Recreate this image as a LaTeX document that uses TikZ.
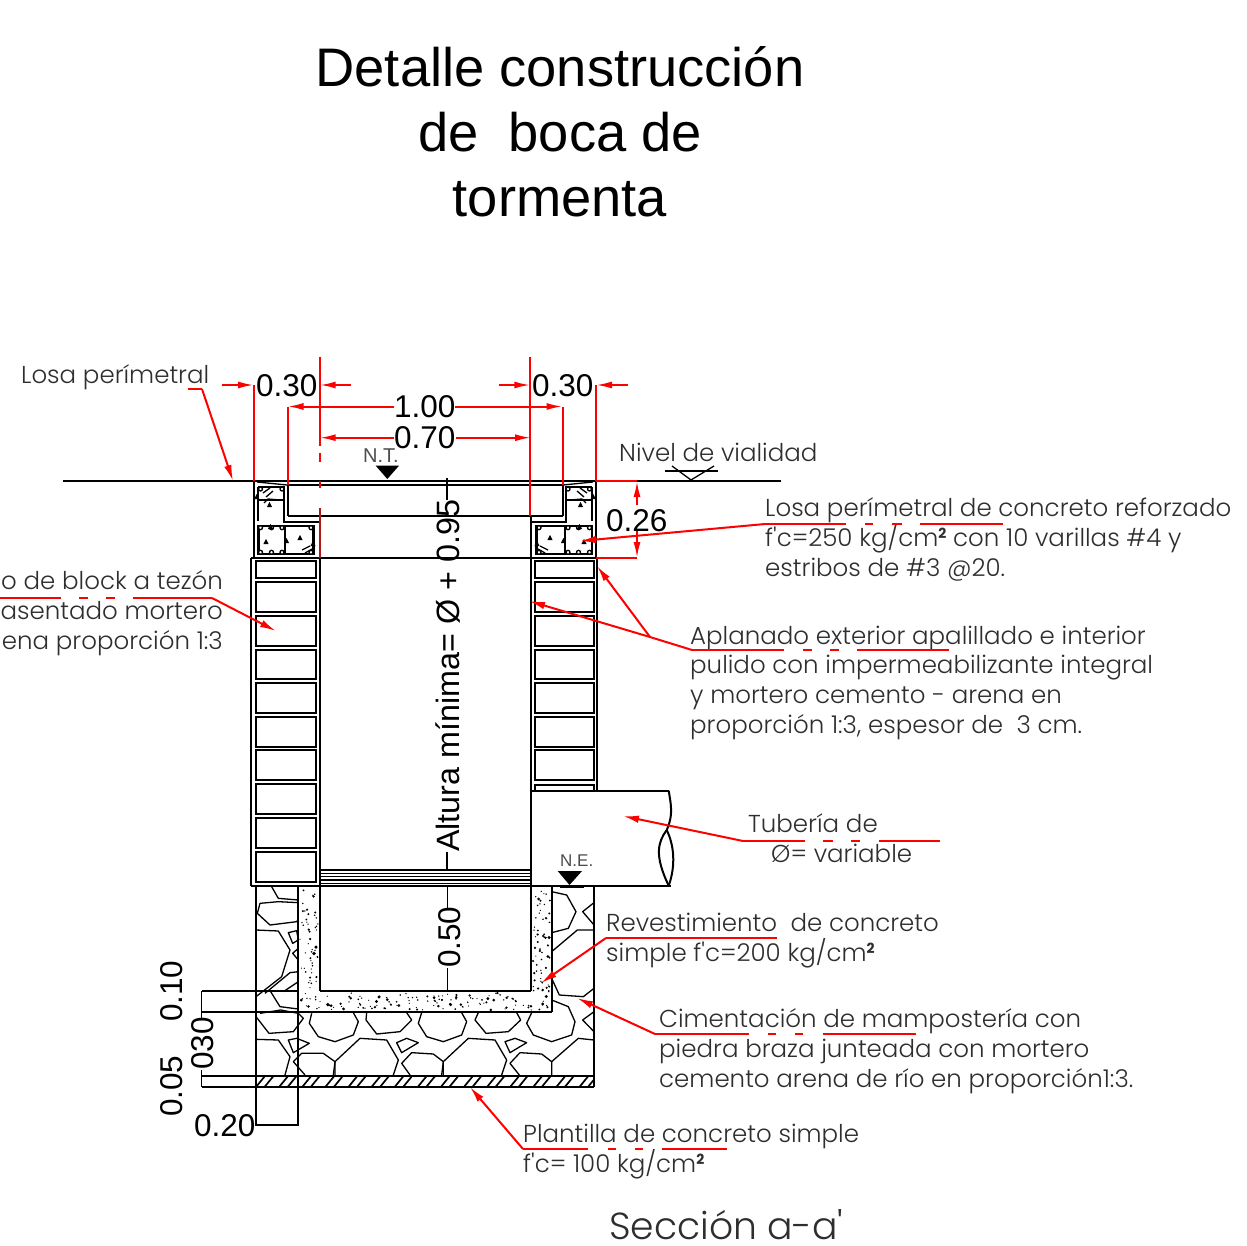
\documentclass[tikz,border=0pt]{standalone}
\usepackage{fontspec}
\usetikzlibrary{arrows.meta}
\setmainfont{Liberation Sans}
\newfontfamily\lblfont{Poppins Light}
\newfontfamily\lblbold{Poppins}
\definecolor{lblgray}{HTML}{2E2E2E}
\definecolor{dimred}{HTML}{FF0000}
\definecolor{darkred}{HTML}{B01818}
\newcommand{\supdos}{\raisebox{8pt}{\lblbold\bfseries\fontsize{14}{14}\selectfont 2}}
\tikzset{
  wall/.style={draw=black,line width=2pt},
  thin wall/.style={draw=black,line width=1.3pt},
  stone/.style={draw=black,line width=1.3pt,line join=round},
  dimline/.style={draw=dimred,line width=2pt},
  dimtip/.style={draw=dimred,line width=2pt,-{Latex[length=16pt,width=7pt]}},
  leadline/.style={draw=dimred,line width=2pt,line join=miter},
  leadtip/.style={draw=dimred,line width=2pt,-{Latex[length=16pt,width=7.5pt]}},
  dimtext/.style={font=\fontsize{31.5}{34}\selectfont,inner sep=0pt,anchor=base west,text=black},
  lbl/.style={font=\lblfont\fontsize{24.5}{29.6}\selectfont,inner sep=0pt,anchor=base west,align=left,text=lblgray},
  lblr/.style={font=\lblfont\fontsize{24.5}{29.6}\selectfont,inner sep=0pt,anchor=base east,align=right,text=lblgray},
  lvl/.style={font=\fontsize{20}{22}\selectfont,inner sep=0pt,anchor=base west,text=black!70},
  rebar/.style={draw=black,line width=1.3pt,fill=white},
  aggr/.style={fill=black,draw=none},
}
\newcommand{\reinf}{%
  \draw[wall] (254,481) -- (254,558);
  \draw[thin wall] (257,482) -- (287,485);
  \draw[wall] (287.5,485) -- (287.5,516);
  \draw[wall] (284,488) -- (284,521.7) -- (319.7,521.7);
  \draw[draw=black,line width=2.2pt] (258.3,487) -- (285,487);
  \draw[draw=black,line width=2.2pt] (258.3,487) -- (258.3,521);
  \draw[thin wall] (258.3,500) -- (285,500);
  \draw[draw=black,line width=2.4pt] (258.3,526) rectangle (313.5,554);
  \draw[thin wall] (285,526) -- (285,554);
  \foreach \px/\py in {260.5/489,282/489,260.5/527.7,271.5/527.7,282/527.7,260.5/552.3,271.5/552.3,282/552.3,311/527.7,311/552.3}
    \draw[rebar] (\px,\py) circle (2);
  \draw[thin wall] (263,493) -- (270,488);
  \draw[thin wall] (266,497) -- (273,491);
  \draw[thin wall] (264,503) -- (268,499) -- (280,500);
  \draw[thin wall] (302,550) -- (310,546);
  \draw[thin wall] (305,553) -- (312,549);
  \foreach \ax/\ay in {256.7/497,269.5/505,270.5/527,266/542,286.5/541,300/538,313/544}
    \fill[aggr] (\ax-2.6,\ay+2) -- (\ax+2.6,\ay+2) -- (\ax,\ay-3) -- cycle;
}
\newcommand{\blockrows}[2]{%
  \foreach \ya/\yb in {560.5/578,582/612,616/646,650/679,683/713,717/747,750/780}
    \draw[wall] (#1,\ya) rectangle (#2,\yb);
}
\begin{document}
\begin{tikzpicture}[x=1pt,y=-1pt]
\useasboundingbox (0,0) rectangle (1247,1246);
\node[inner sep=0pt,align=center,font=\fontsize{54.3}{65}\selectfont,anchor=center] (title) at (560,131.5) {Detalle construcción\\de~ boca de\\tormenta};

\draw[wall] (63,481) -- (781,481);
\coordinate (nvA) at (665,471); \coordinate (nvB) at (718,471); \coordinate (nvC) at (691,480);
\draw[thin wall] (nvA) -- (nvB);
\draw[thin wall] (672,466) -- (nvC) -- (714,466);
\node[lbl] (nivel) at (619,461) {Nivel de vialidad};

\draw[wall] (287.5,485) -- (562.5,485);
\draw[wall] (287.5,516) -- (562.5,516);
\draw[wall] (251,558) -- (597,558);
\reinf
\begin{scope}[shift={(850,0)},xscale=-1]\reinf\end{scope}

\draw[wall] (251,558) -- (251,886);
\draw[wall] (319.7,508) -- (319.7,991);
\draw[wall] (530.7,516) -- (530.7,991);
\draw[wall] (597,558) -- (597,790);
\draw[line width=2.3pt] (251,886) -- (671,886);
\blockrows{255.7}{316}
\foreach \ya/\yb in {784/814,818/848,852/881.5}
  \draw[wall] (255.7,\ya) rectangle (316,\yb);
\blockrows{534.5}{593.5}
\draw[wall] (534.5,790) -- (534.5,784.5) -- (593.5,784.5) -- (593.5,790);
\foreach \yy in {870,873.4,876.8,880,883.5}
  \draw[thin wall] (319.7,\yy) -- (530.7,\yy);

\draw[wall] (530.7,790.7) -- (668.7,790.7);
\draw[wall] (668.7,790.7) .. controls (671,805) and (673.5,815) .. (666.7,830)
  .. controls (658,842) and (654,855) .. (668.7,885.7);
\draw[wall] (666.7,830) .. controls (674,845) and (676,865) .. (668.7,885.7);
\draw[wall] (530.7,790.7) -- (530.7,886);
\draw[line width=2.4pt] (560,887) -- (584,887);

\coordinate (ntA) at (375.7,465.7); \coordinate (ntB) at (399,465.7); \coordinate (ntC) at (387.3,479);
\fill (ntA) -- (ntB) -- (ntC) -- cycle;
\node[lvl] (nt) at (363,462) {N.T.};
\coordinate (neA) at (557.7,871); \coordinate (neB) at (582,871); \coordinate (neC) at (569.5,885);
\fill (neA) -- (neB) -- (neC) -- cycle;
\node[lvl,font=\fontsize{17}{19}\selectfont] (ne) at (560,866) {N.E.};

\draw[wall] (256,886) -- (256,1087);
\draw[wall] (594,886) -- (594,1087);
\draw[thin wall] (256,1087) -- (256,1125) -- (298,1125) -- (298,886);
\draw[wall] (552,886) -- (552,1012);
\draw[wall] (319.7,991) -- (530.7,991);
\draw[wall,line width=1.6pt] (201.7,991) -- (298,991);
\draw[wall] (201.7,1012) -- (552,1012);
\draw[wall] (201.7,1076) -- (594,1076);
\draw[wall] (201.7,1087) -- (594,1087);
\draw[thin wall] (201.7,991) -- (201.7,1018);
\draw[thin wall] (201.7,1070) -- (201.7,1087);
\begin{scope}
\clip (256,1076) rectangle (594,1087);
\foreach \k in {0,...,15} {
  \pgfmathsetmacro\xa{256+23.1*\k}
  \pgfmathsetmacro\xb{\xa+8.5}
  \draw[line width=1.7pt] (\xa,1087) -- (\xa+9,1076);
  \draw[line width=1.7pt] (\xb,1087) -- (\xb+9,1076);
}
\end{scope}
\begin{scope}[shift={(150,860)},x=.33333pt,y=-.33333pt]
\draw[stone] (365,80) -- (385,115) -- (445,120);
\draw[stone] (445,128) -- (385,125) -- (330,130) -- (322,160) -- (360,195) -- (440,185) -- (445,178);
\draw[stone] (318,210) -- (385,213) -- (420,270) -- (395,350) -- (318,410);
\draw[stone] (415,218) -- (440,212) -- (445,240) -- (428,250) -- cycle;
\draw[stone] (445,265) -- (428,280) -- (445,300);
\draw[stone] (445,335) -- (420,338) -- (345,400);
\draw[stone] (445,365) -- (400,395);
\draw[stone] (362,395) -- (390,440) -- (445,447);
\draw[stone] (318,470) -- (357,520) -- (430,515) -- (460,475) -- (445,460) -- (392,450) -- (330,460);
\draw[stone] (485,460) -- (478,490) -- (505,530) -- (555,545) -- (610,525) -- (625,485) -- (610,458);
\draw[stone] (650,458) -- (648,480) -- (680,522) -- (750,515) -- (785,480) -- (770,458);
\draw[stone] (815,458) -- (805,490) -- (830,530) -- (880,545) -- (935,525) -- (950,485) -- (935,458);
\draw[stone] (985,458) -- (975,480) -- (1008,520) -- (1075,515) -- (1112,480) -- (1100,458);
\draw[stone] (1145,458) -- (1130,490) -- (1150,525) -- (1205,545) -- (1265,525) -- (1275,485) -- (1255,440) -- (1205,420);
\draw[stone] (318,538) -- (385,540) -- (420,590) -- (405,645);
\draw[stone] (465,645) -- (430,605) -- (455,580) -- (520,580) -- (555,605) -- (550,645);
\draw[stone] (555,645) -- (555,605) -- (630,535) -- (710,540) -- (745,600) -- (730,645);
\draw[stone] (780,645) -- (755,610) -- (785,578) -- (850,582) -- (880,605) -- (875,645);
\draw[stone] (880,645) -- (880,605) -- (955,535) -- (1035,540) -- (1070,600) -- (1055,645);
\draw[stone] (1108,645) -- (1080,610) -- (1110,578) -- (1175,582) -- (1205,605) -- (1205,645);
\draw[stone] (1205,605) -- (1285,535) -- (1332,540);
\draw[stone] (415,540) -- (440,535) -- (478,550) -- (430,578) -- cycle;
\draw[stone] (740,548) -- (770,535) -- (805,548) -- (755,578) -- cycle;
\draw[stone] (1065,545) -- (1095,535) -- (1130,548) -- (1080,578) -- cycle;
\draw[stone] (1205,95) -- (1250,105) -- (1278,155) -- (1255,205) -- (1205,218);
\draw[stone] (1332,128) -- (1298,155) -- (1332,195);
\draw[stone] (1205,275) -- (1282,210) -- (1332,210);
\draw[stone] (1205,355) -- (1228,405) -- (1300,410) -- (1332,385);
\draw[stone] (1332,455) -- (1298,480) -- (1332,515);
\end{scope}
\pgfmathsetseed{4217}
\foreach \i in {1,...,50} {
  \pgfmathsetmacro\sx{300+rnd*18}\pgfmathsetmacro\sy{888+rnd*102}\pgfmathsetmacro\sr{.6+rnd*rnd*1.3}
  \fill (\sx,\sy) circle (\sr);
}
\foreach \i in {1,...,60} {
  \pgfmathsetmacro\sx{532.5+rnd*18}\pgfmathsetmacro\sy{888+rnd*104}\pgfmathsetmacro\sr{.6+rnd*rnd*1.3}
  \fill (\sx,\sy) circle (\sr);
}
\foreach \i in {1,...,130} {
  \pgfmathsetmacro\sx{300+rnd*250}\pgfmathsetmacro\sy{993+rnd*17}\pgfmathsetmacro\sr{.6+rnd*rnd*1.3}
  \fill (\sx,\sy) circle (\sr);
}

\coordinate (rA) at (254,385); \coordinate (rB) at (319.7,385); \coordinate (rC) at (530.3,385); \coordinate (rD) at (596,385);
\draw[dimline] (rA) -- (254,481);
\draw[dimline] (rD) -- (596,481);
\draw[dimline] (319.7,357) -- (319.7,446);
\draw[dimline] (319.7,453) -- (319.7,462);
\draw[dimline] (319.7,481) -- (319.7,488);
\draw[dimline,draw=darkred] (319.7,508) -- (319.7,558);
\draw[dimline] (530.3,357) -- (530.3,516);
\draw[dimtip] (222,385) -- (rA);
\draw[dimtip] (351,385) -- (rB);
\draw[dimtip] (499,385) -- (rC);
\draw[dimtip] (628,385) -- (rD);
\draw[dimline] (287.5,406.5) -- (287.5,485);
\draw[dimline] (562.5,406.5) -- (562.5,485);
\draw[dimtip] (394,406.5) -- (287.5,406.5);
\draw[dimtip] (455,406.5) -- (562.5,406.5);
\draw[dimtip] (394,437.7) -- (319.7,437.7);
\draw[dimtip] (456,437.7) -- (531,437.7);
\draw[dimline] (596,481) -- (637,481);
\draw[dimline] (596,558) -- (637,558);
\draw[dimtip] (637,505) -- (637,481);
\draw[dimtip] (637,531) -- (637,558);

\node[dimtext] (d30a) at (256,396.7) {0.30};
\node[dimtext] (d30b) at (532,396.7) {0.30};
\node[dimtext] (d100) at (394,417.7) {1.00};
\node[dimtext] (d70) at (394,448) {0.70};
\node[dimtext] (d26) at (606,531) {0.26};
\node[dimtext,font=\fontsize{32.3}{34}\selectfont,rotate=90] (dalt) at (459,852) {Altura mínima= Ø + 0.95};
\node[dimtext,rotate=90] (d50) at (460,968) {0.50};
\node[dimtext,rotate=90] (d10) at (182.5,1022) {0.10};
\node[dimtext,rotate=90] (d030) at (213,1070) {030};
\node[dimtext,rotate=90] (d05) at (182.5,1117) {0.05};
\node[dimtext] (d20) at (194,1136) {0.20};
\draw[thin wall] (447,478) -- (447,500);
\draw[thin wall] (447,852) -- (447,870);
\draw[thin wall] (447.5,886) -- (447.5,908);
\draw[thin wall] (447.5,968) -- (447.5,991);

\node[lbl] (tlosa) at (21,383) {Losa perímetral};
\coordinate (lA) at (188,389); \coordinate (lB) at (202,389); \coordinate (lC) at (233,481);
\draw[leadline] (lA) -- (lB);
\draw[leadtip] (lB) -- (lC);

\node[lblr] (tmuro) at (223,649) {o de block a tezón\\asentado mortero\\ena proporción 1:3};
\coordinate (mA) at (212,598); \coordinate (mB) at (276,631);
\draw[leadline] (0,598) -- (61,598) (79,598) -- (88,598) (106,598) -- (115,598) (133,598) -- (mA);
\draw[leadtip] (mA) -- (mB);

\node[lbl] (tlosb) at (765,576) {Losa perímetral de concreto reforzado\\f'c=250 kg/cm\supdos{} con 10 varillas \#4 y\\estribos de \#3 @20.};
\coordinate (sA) at (765,524); \coordinate (sB) at (580,541);
\draw[leadline] (sA) -- (846,524) (865,524) -- (873,524) (892,524) -- (902,524) (920,524) -- (1003,524);
\draw[leadtip] (sA) -- (sB);

\node[lbl] (tapl) at (690,733) {Aplanado exterior apalillado e interior\\pulido con impermeabilizante integral\\y mortero cemento - arena en\\proporción 1:3, espesor de~ 3 cm.};
\coordinate (aA) at (692,650); \coordinate (aB) at (650,637); \coordinate (aC) at (529,601); \coordinate (aD) at (597,566);
\draw[leadline] (aA) -- (784,650) (803,650) -- (812,650) (830,650) -- (839,650) (857,650) -- (949,650);
\draw[leadline] (aA) -- (aB);
\draw[leadtip] (aB) -- (aC);
\draw[leadtip] (aB) -- (aD);

\node[lbl] (ttub) at (748,832) {Tubería de};
\node[lbl] (tvar) at (771,862) {Ø= variable};
\coordinate (tA) at (743,841); \coordinate (tB) at (623,816);
\draw[leadline] (tA) -- (805,841) (823,841) -- (833,841) (851,841) -- (860,841) (879,841) -- (940,841);
\draw[leadtip] (tA) -- (tB);

\node[lbl] (trev) at (606,961) {Revestimiento~ de concreto\\simple f'c=200 kg/cm\supdos};
\coordinate (rvA) at (606,938); \coordinate (rvB) at (541,983);
\draw[leadline] (rvA) -- (777,938);
\draw[leadtip] (rvA) -- (rvB);

\node[lbl] (tcim) at (659,1087) {Cimentación de mampostería con\\piedra braza junteada con mortero\\cemento arena de río en proporción1:3.};
\coordinate (cA) at (655,1034); \coordinate (cB) at (577,998);
\draw[leadline] (cA) -- (749,1034) (768,1034) -- (776,1034) (795,1034) -- (803,1034) (823,1034) -- (916,1034);
\draw[leadtip] (cA) -- (cB);

\node[lbl] (tpla) at (523,1172) {Plantilla de concreto simple\\f'c= 100 kg/cm\supdos};
\coordinate (pA) at (523,1149); \coordinate (pB) at (470,1087);
\draw[leadline] (pA) -- (588,1149) (608,1149) -- (616,1149) (635,1149) -- (643,1149) (662,1149) -- (727,1149);
\draw[leadtip] (pA) -- (pB);

\node[lbl,font=\lblfont\fontsize{37.7}{40}\selectfont,text depth=0pt] (tsec) at (609,1239) {Sección a-a'};
\end{tikzpicture}
\end{document}
